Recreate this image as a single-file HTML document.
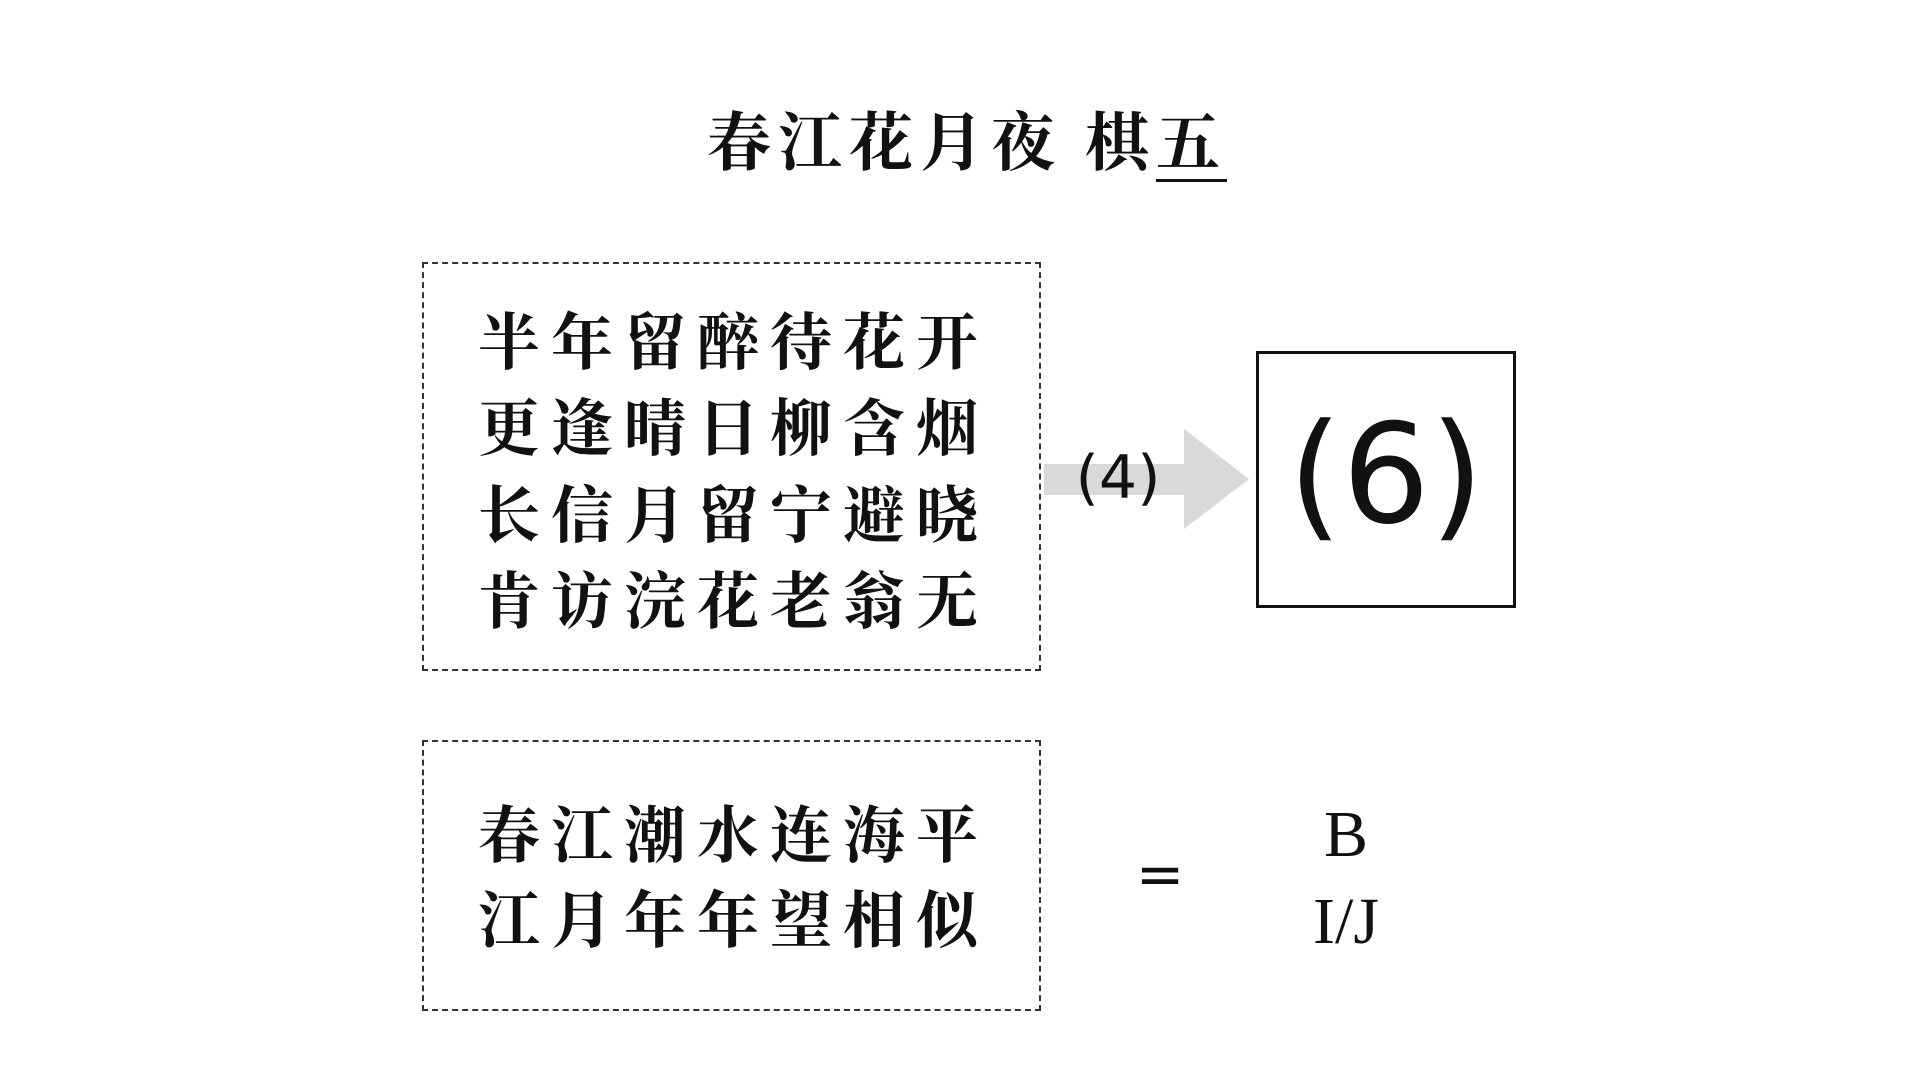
<!DOCTYPE html>
<html><head><meta charset="utf-8"><style>
html,body{margin:0;padding:0;background:#fff;width:1920px;height:1080px;overflow:hidden;position:relative}
.a{position:absolute}
.cjk{font-family:"Liberation Serif","Noto Serif CJK SC",serif;font-weight:700;color:#111}
.box{position:absolute;border:2px dashed #333;box-sizing:border-box}
.line{position:absolute;left:0;width:100%;text-align:center;font-size:62px;letter-spacing:11px;line-height:86px;text-indent:4px}
</style></head><body>
<div class="a cjk" style="left:0;width:1934px;top:104px;text-align:center;font-size:64px;line-height:80px;letter-spacing:7px">春江花月夜 棋<span style="border-bottom:3px solid #111">五</span></div>

<div class="box" style="left:422px;top:262px;width:619px;height:409px">
  <div class="cjk line" style="top:37px">半年留醉待花开</div>
  <div class="cjk line" style="top:123px">更逢晴日柳含烟</div>
  <div class="cjk line" style="top:210px">长信月留宁避晓</div>
  <div class="cjk line" style="top:296px">肯访浣花老翁无</div>
</div>

<svg class="a" style="left:0;top:0" width="1920" height="1080">
  <rect x="1044" y="464" width="142" height="31" fill="#d9d9d9"/>
  <polygon points="1184,429 1249,479 1184,529" fill="#d9d9d9"/>
</svg>
<div class="a" style="left:1048px;width:140px;top:438px;text-align:center;font-family:'DejaVu Sans',sans-serif;font-size:60px;line-height:80px;color:#111">(4)</div>

<div class="a" style="left:1256px;top:351px;width:260px;height:257px;border:3px solid #111;box-sizing:border-box"></div>
<div class="a" style="left:1256px;width:260px;top:390px;text-align:center;font-family:'DejaVu Sans',sans-serif;font-size:138px;line-height:170px;color:#111">(6)</div>

<div class="box" style="left:422px;top:740px;width:619px;height:271px">
  <div class="cjk line" style="top:52px">春江潮水连海平</div>
  <div class="cjk line" style="top:137px">江月年年望相似</div>
</div>

<div class="a" style="left:1120px;width:80px;top:834px;text-align:center;font-family:'DejaVu Sans',sans-serif;font-size:58px;line-height:80px;color:#111">=</div>
<div class="a" style="left:1246px;width:200px;top:795px;text-align:center;font-family:'Liberation Serif',serif;font-size:66px;line-height:80px;color:#111">B</div>
<div class="a" style="left:1246px;width:200px;top:882px;text-align:center;font-family:'Liberation Serif',serif;font-size:66px;line-height:80px;color:#111">I/J</div>
</body></html>
